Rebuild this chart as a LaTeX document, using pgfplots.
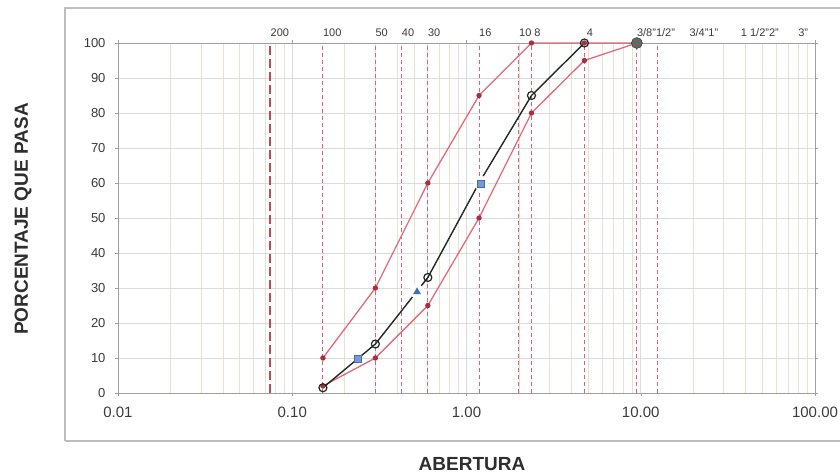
\documentclass[border=0pt]{standalone}
\usepackage{pgfplots}
\pgfplotsset{compat=1.18}
\usepackage{fontspec}
\setmainfont{Liberation Sans}
\definecolor{limred}{HTML}{E26A78}
\definecolor{dotred}{HTML}{A8303E}
\definecolor{sieve}{HTML}{E0607A}
\definecolor{sieve200}{HTML}{C0485C}
\definecolor{curve}{HTML}{1E2A22}
\definecolor{bluemk}{HTML}{3E6DB5}
\definecolor{framegray}{HTML}{BDBDBD}
\definecolor{ticktxt}{HTML}{3A3A3A}
\definecolor{minorgrid}{HTML}{E6E2CF}

\begin{document}
\begin{tikzpicture}[x=1pt,y=1pt]
\useasboundingbox (0,0) rectangle (840,475);
\draw[framegray, line width=1.2pt] (65,34) -- (65,467) -- (845,467);
\draw[framegray, line width=1.2pt] (65,34) -- (845,34);
\begin{axis}[
  at={(118pt,82pt)}, anchor=south west,
  scale only axis, width=697pt, height=350pt,
  xmode=log, log basis x=10,
  xmin=0.01, xmax=100, ymin=0, ymax=100,
  xtick={0.01,0.1,1,10,100},
  xticklabels={0.01,0.10,1.00,10.00,100.00},
  minor xtick={0.02,0.03,0.04,0.05,0.06,0.07,0.08,0.09,
               0.2,0.3,0.4,0.5,0.6,0.7,0.8,0.9,
               2,3,4,5,6,7,8,9,
               20,30,40,50,60,70,80,90},
  ytick={0,10,...,100},
  xmajorgrids=true, xminorgrids=true, ymajorgrids=true,
  major grid style={gray!28, line width=0.6pt},
  minor grid style={minorgrid, line width=0.8pt},
  axis line style={gray!75, line width=0.8pt},
  tick style={gray!75},
  tick align=outside, major tick length=3pt, minor tick length=0pt,
  /pgf/number format/assume math mode=true,
  x tick label style={font=\fontsize{15}{17}\selectfont, text=ticktxt, yshift=-7pt},
  y tick label style={font=\fontsize{13}{15}\selectfont, text=ticktxt, xshift=-6pt},
  clip=false,
]
% sieve openings (mm)
\addplot[sieve200, line width=2pt, dash pattern=on 9pt off 4pt] coordinates {(0.075,0) (0.075,100)};
\addplot[sieve, line width=1pt, dash pattern=on 4pt off 3pt] coordinates {(0.15,0) (0.15,100)};
\addplot[sieve, line width=1pt, dash pattern=on 4pt off 3pt] coordinates {(0.3,0) (0.3,100)};
\addplot[sieve, line width=1pt, dash pattern=on 4pt off 3pt] coordinates {(0.425,0) (0.425,100)};
\addplot[sieve, line width=1pt, dash pattern=on 4pt off 3pt] coordinates {(0.6,0) (0.6,100)};
\addplot[sieve, line width=1pt, dash pattern=on 4pt off 3pt] coordinates {(1.18,0) (1.18,100)};
\addplot[sieve, line width=1pt, dash pattern=on 4pt off 3pt] coordinates {(2.0,0) (2.0,100)};
\addplot[sieve, line width=1pt, dash pattern=on 4pt off 3pt] coordinates {(2.36,0) (2.36,100)};
\addplot[sieve, line width=1pt, dash pattern=on 4pt off 3pt] coordinates {(4.75,0) (4.75,100)};
\addplot[sieve, line width=1pt, dash pattern=on 4pt off 3pt] coordinates {(9.5,0) (9.5,100)};
\addplot[sieve, line width=1pt, dash pattern=on 4pt off 3pt] coordinates {(12.5,0) (12.5,100)};

% limits
\addplot[limred, line width=1.3pt, mark=*, mark size=2pt, mark options={fill=dotred, draw=dotred}]
  coordinates {(0.15,10) (0.3,30) (0.6,60) (1.18,85) (2.36,100) (4.75,100) (9.5,100)};
\addplot[limred, line width=1.3pt, mark=*, mark size=2pt, mark options={fill=dotred, draw=dotred}]
  coordinates {(0.15,2) (0.3,10) (0.6,25) (1.18,50) (2.36,80) (4.75,95) (9.5,100)};

% gradation
\addplot[curve, line width=1.4pt, mark=o, mark size=4pt, mark options={draw=curve, fill=none, line width=1.2pt}]
  coordinates {(0.15,1.5) (0.3,14) (0.6,33) (1.18,60) (2.36,85) (4.75,100)};
\addplot[only marks, mark=*, mark size=5.5pt, mark options={fill=gray!80!black, draw=curve}]
  coordinates {(9.5,100)};

% interpolated points
\addplot[only marks, mark=*, mark size=7pt, white] coordinates {(0.52,29) (1.21,60)};
\addplot[only marks, mark=square*, mark size=3.5pt, mark options={fill=bluemk!70, draw=bluemk}]
  coordinates {(0.238,9.7) (1.21,59.7)};
\addplot[only marks, mark=triangle*, mark size=4pt, mark options={fill=bluemk, draw=bluemk}]
  coordinates {(0.52,28.9)};

% sieve labels
\begin{scope}[every node/.style={anchor=south west, inner sep=0pt, yshift=6pt,
    font=\fontsize{11}{12}\selectfont, text=ticktxt}]
\node at (axis cs:0.075,100) {200};
\node at (axis cs:0.15,100) {100};
\node at (axis cs:0.3,100) {50};
\node at (axis cs:0.425,100) {40};
\node at (axis cs:0.6,100) {30};
\node at (axis cs:1.18,100) {16};
\node at (axis cs:2.0,100) {10 8};
\node at (axis cs:4.9,100) {4};
\node at (axis cs:9.5,100) {3/8"1/2"};
\node at (axis cs:19,100) {3/4"1"};
\node at (axis cs:37.5,100) {1 1/2"2"};
\node at (axis cs:80,100) {3"};
\end{scope}
\end{axis}
\node[rotate=90, font=\bfseries\fontsize{19}{21}\selectfont, text=ticktxt!80!black] at (23,256) {PORCENTAJE QUE PASA};
\node[font=\bfseries\fontsize{19}{21}\selectfont, text=ticktxt!80!black] at (472,11) {ABERTURA};
\end{tikzpicture}
\end{document}
